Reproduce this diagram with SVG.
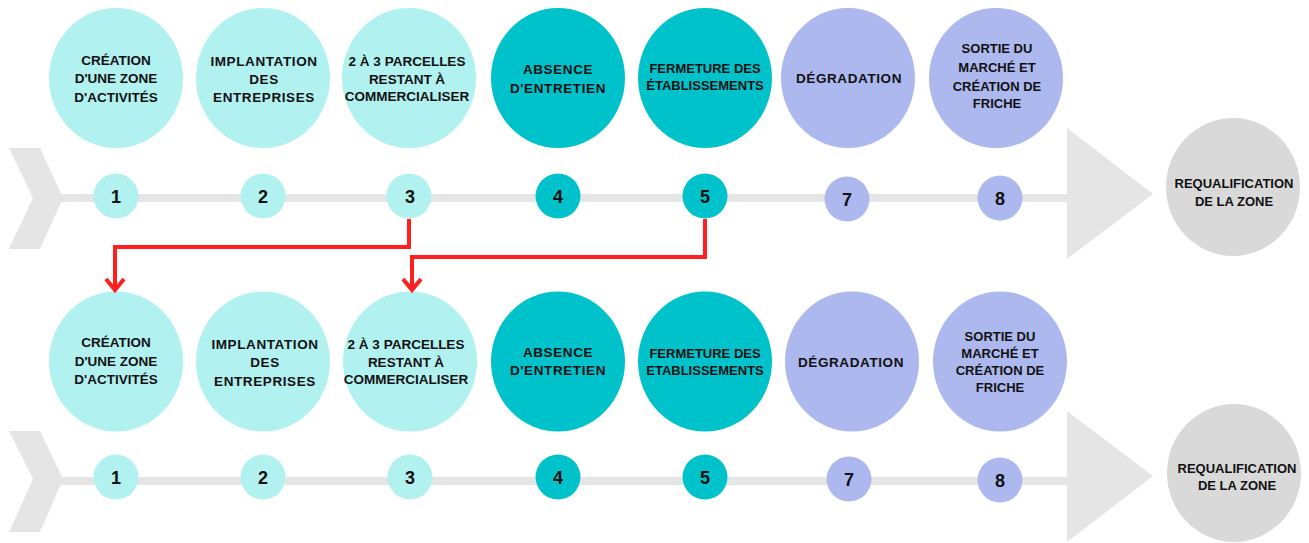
<svg xmlns="http://www.w3.org/2000/svg" width="1309" height="543" viewBox="0 0 1309 543">
<style>
.bg{fill:#ffffff}
.bar{fill:#e5e5e5}
.light{fill:#b1f2f1}
.teal{fill:#00c2ca}
.lav{fill:#adb8ef}
.gray{fill:#d9d9d9}
text{font-family:"Liberation Sans",Arial,sans-serif;font-weight:bold;fill:#111111;text-anchor:middle}
.t{font-size:13.5px}
.w{letter-spacing:0.6px}
.s{font-size:13px}
.n{font-size:18px}
.red{fill:none;stroke:#ff1f1f;stroke-width:4;stroke-linejoin:miter}
</style>
<rect class="bg" x="0" y="0" width="1309" height="543"/>

<!-- timelines -->
<g id="timeline-top">
<polygon class="bar" points="9,148 40,148 63,198 40,249 9,249 33,198"/>
<rect class="bar" x="55" y="194" width="1015" height="8"/>
<polygon class="bar" points="1067,128 1153,194 1067,259"/>
</g>
<g id="timeline-bottom">
<polygon class="bar" points="9,431 40,431 63,479 40,532 9,532 33,479"/>
<rect class="bar" x="55" y="477" width="1015" height="8"/>
<polygon class="bar" points="1067,411 1153,476 1067,542"/>
</g>

<!-- top row -->
<g id="top-1"><ellipse class="light" cx="116" cy="78" rx="67" ry="70"/>
<text class="t" x="116" y="65">CRÉATION</text><text class="t" x="116" y="83">D'UNE ZONE</text><text class="t" x="116" y="102">D'ACTIVITÉS</text></g>
<g id="top-2"><ellipse class="light" cx="263" cy="78" rx="67" ry="70"/>
<text class="t w" x="264" y="66">IMPLANTATION</text><text class="t w" x="264" y="84">DES</text><text class="t w" x="264" y="102">ENTREPRISES</text></g>
<g id="top-3"><ellipse class="light" cx="409" cy="78" rx="67" ry="70"/>
<text class="t" x="407" y="66">2 À 3 PARCELLES</text><text class="t" x="407" y="84">RESTANT À</text><text class="t" x="407" y="101">COMMERCIALISER</text></g>
<g id="top-4"><ellipse class="teal" cx="558" cy="78" rx="67" ry="70"/>
<text class="t w" x="558" y="74">ABSENCE</text><text class="t w" x="558" y="93">D'ENTRETIEN</text></g>
<g id="top-5"><ellipse class="teal" cx="705" cy="78" rx="67" ry="70"/>
<text class="s" x="705" y="73">FERMETURE DES</text><text class="s" x="705" y="90">ÉTABLISSEMENTS</text></g>
<g id="top-7"><ellipse class="lav" cx="848" cy="78" rx="67" ry="70"/>
<text class="t w" x="849" y="83">DÉGRADATION</text></g>
<g id="top-8"><ellipse class="lav" cx="996" cy="78" rx="67" ry="70"/>
<text class="s" x="997" y="53">SORTIE DU</text><text class="s" x="997" y="72">MARCHÉ ET</text><text class="s" x="997" y="91">CRÉATION DE</text><text class="s" x="997" y="108">FRICHE</text></g>
<g id="top-requal"><ellipse class="gray" cx="1233" cy="187" rx="67" ry="69"/>
<text class="s" x="1234" y="188">REQUALIFICATION</text><text class="s" x="1234" y="206">DE LA ZONE</text></g>

<g id="top-numbers">
<g id="top-n1"><circle class="light" cx="116" cy="196" r="22.5"/><text class="n" x="116" y="203">1</text></g>
<g id="top-n2"><circle class="light" cx="263" cy="196" r="22.5"/><text class="n" x="263" y="203">2</text></g>
<g id="top-n3"><circle class="light" cx="409" cy="196" r="22.5"/><text class="n" x="410" y="203">3</text></g>
<g id="top-n4"><circle class="teal" cx="558" cy="196" r="22.5"/><text class="n" x="558" y="203">4</text></g>
<g id="top-n5"><circle class="teal" cx="705" cy="196" r="22.5"/><text class="n" x="705" y="203">5</text></g>
<g id="top-n7"><circle class="lav" cx="847" cy="199" r="22.5"/><text class="n" x="847" y="206">7</text></g>
<g id="top-n8"><circle class="lav" cx="1000" cy="198" r="22.5"/><text class="n" x="1000" y="205">8</text></g>
</g>

<!-- bottom row -->
<g id="bot-1"><ellipse class="light" cx="116" cy="361.5" rx="67" ry="70"/>
<text class="t" x="116" y="347">CRÉATION</text><text class="t" x="116" y="366">D'UNE ZONE</text><text class="t" x="116" y="384">D'ACTIVITÉS</text></g>
<g id="bot-2"><ellipse class="light" cx="263" cy="361.5" rx="67" ry="70"/>
<text class="t w" x="265" y="349">IMPLANTATION</text><text class="t w" x="265" y="367">DES</text><text class="t w" x="265" y="386">ENTREPRISES</text></g>
<g id="bot-3"><ellipse class="light" cx="410" cy="361.5" rx="67" ry="70"/>
<text class="t" x="406" y="349">2 À 3 PARCELLES</text><text class="t" x="406" y="367">RESTANT À</text><text class="t" x="406" y="384">COMMERCIALISER</text></g>
<g id="bot-4"><ellipse class="teal" cx="558" cy="361.5" rx="67" ry="70"/>
<text class="t w" x="558" y="357">ABSENCE</text><text class="t w" x="558" y="375">D'ENTRETIEN</text></g>
<g id="bot-5"><ellipse class="teal" cx="705" cy="361.5" rx="67" ry="70"/>
<text class="s" x="705" y="358">FERMETURE DES</text><text class="s" x="705" y="375">ETABLISSEMENTS</text></g>
<g id="bot-7"><ellipse class="lav" cx="852" cy="361.5" rx="67" ry="70"/>
<text class="t w" x="851" y="367">DÉGRADATION</text></g>
<g id="bot-8"><ellipse class="lav" cx="1000" cy="361.5" rx="67" ry="70"/>
<text class="s" x="1000" y="341">SORTIE DU</text><text class="s" x="1000" y="358">MARCHÉ ET</text><text class="s" x="1000" y="375">CRÉATION DE</text><text class="s" x="1000" y="392">FRICHE</text></g>
<g id="bot-requal"><ellipse class="gray" cx="1234" cy="473" rx="67" ry="69"/>
<text class="s" x="1237" y="473">REQUALIFICATION</text><text class="s" x="1237" y="490">DE LA ZONE</text></g>

<g id="bot-numbers">
<g id="bot-n1"><circle class="light" cx="116" cy="477" r="22.5"/><text class="n" x="116" y="484">1</text></g>
<g id="bot-n2"><circle class="light" cx="263" cy="477" r="22.5"/><text class="n" x="263" y="484">2</text></g>
<g id="bot-n3"><circle class="light" cx="410" cy="477" r="22.5"/><text class="n" x="410" y="484">3</text></g>
<g id="bot-n4"><circle class="teal" cx="558" cy="477" r="22.5"/><text class="n" x="558" y="484">4</text></g>
<g id="bot-n5"><circle class="teal" cx="705" cy="477" r="22.5"/><text class="n" x="705" y="484">5</text></g>
<g id="bot-n7"><circle class="lav" cx="849" cy="479" r="22.5"/><text class="n" x="849" y="486">7</text></g>
<g id="bot-n8"><circle class="lav" cx="1000" cy="480" r="22.5"/><text class="n" x="1000" y="487">8</text></g>
</g>

<!-- connectors -->
<g id="connectors">
<path class="red" d="M409,219 V247 H115 V290"/>
<path class="red" d="M106,279 L115,290 L124,279"/>
<path class="red" d="M705,219 V257 H412 V290"/>
<path class="red" d="M403,279 L412,290 L421,279"/>
</g>
</svg>
